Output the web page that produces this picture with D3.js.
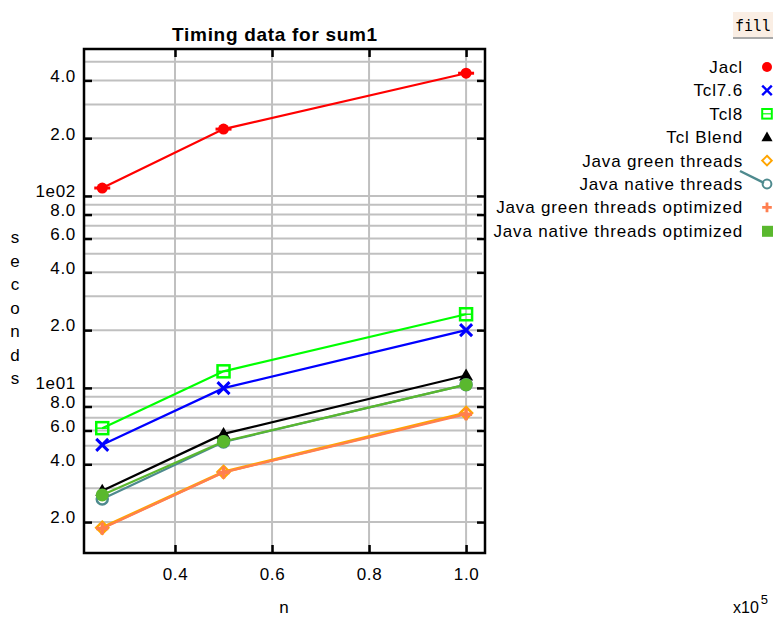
<!DOCTYPE html>
<html>
<head>
<meta charset="utf-8">
<script src="https://cdn.jsdelivr.net/npm/d3@7"></script>
<style>
  body { margin: 0; background: #fff; }
  text { font-family: "Liberation Sans", Arial, sans-serif; fill: #000; }
</style>
</head>
<body>
<svg id="chart" width="773" height="619"></svg>
<script>
// n values, in units of 1e5
const nValues = [0.25, 0.5, 1.0];

const seriesNames = [
  "Jacl", "Tcl7.6", "Tcl8", "Tcl Blend",
  "Java green threads", "Java native threads",
  "Java green threads optimized", "Java native threads optimized"
];

// seconds
const jacl = [110, 223, 436];
const tcl76 = [5.05, 9.97, 20.0];
const tcl8 = [6.17, 12.2, 24.2];
const tclBlend = [2.91, 5.76, 11.6];
const javaGreen = [1.87, 3.65, 7.4];
const javaNative = [2.64, 5.23, 10.4];
const javaGreenOpt = [1.85, 3.63, 7.3];
const javaNativeOpt = [2.77, 5.26, 10.4];

const xTicks = [0.4, 0.6, 0.8, 1.0];
const yTicks = [2, 4, 6, 8, 10, 20, 40, 60, 80, 100, 200, 400];
const yTickLabels = ["2.0", "4.0", "6.0", "8.0", "1e01", "2.0", "4.0", "6.0", "8.0", "1e02", "2.0", "4.0"];

const seriesValues = [jacl, tcl76, tcl8, tclBlend, javaGreen, javaNative, javaGreenOpt, javaNativeOpt];
const seriesColors = ["#ff0000", "#0000ff", "#00ff00", "#000000", "#ffa500", "#4e8a8e", "#ff7f50", "#5ab82e"];
const seriesSymbols = ["circle", "cross", "square", "triangle", "diamond", "ring", "plus", "blob"];

const svg = d3.select("#chart");
const plot = { left: 84, right: 485, top: 49, bottom: 553 };

const x = d3.scaleLinear().domain([0.2124, 1.039]).range([plot.left, plot.right]);
const y = d3.scaleLog().domain([1.38, 583]).range([plot.bottom, plot.top]);

// grid
let gridY = [];
[1, 10, 100].forEach(dec => {
  for (let m = 1; m <= 9; m++) {
    let v = m * dec;
    if (v >= y.domain()[0] && v <= y.domain()[1]) gridY.push(v);
  }
});

let grid = svg.append("g").attr("class", "grid");
grid.selectAll("line.gy")
  .data(gridY)
  .enter().append("line")
    .attr("x1", plot.left).attr("x2", plot.right - 3)
    .attr("y1", d => y(d)).attr("y2", d => y(d))
    .attr("stroke", "#c0c0c0").attr("stroke-width", 2);
grid.selectAll("line.gx")
  .data(xTicks)
  .enter().append("line")
    .attr("x1", d => x(d)).attr("x2", d => x(d))
    .attr("y1", plot.top).attr("y2", plot.bottom)
    .attr("stroke", "#c0c0c0").attr("stroke-width", 2);

// axes
let yFormat = d => yTickLabels[yTicks.indexOf(d)];

svg.append("g")
  .attr("transform", `translate(${plot.left},0)`)
  .call(d3.axisLeft(y).tickValues(yTicks).tickFormat(yFormat).tickSizeInner(-8).tickSizeOuter(0).tickPadding(8))
  .call(g => g.select(".domain").remove())
  .call(g => g.selectAll("line").attr("stroke-width", 2.5))
  .call(g => g.selectAll("text").attr("font-size", 17).attr("dy", "0.05em")
      .attr("font-family", "Liberation Sans, Arial, sans-serif").attr("letter-spacing", 0.7));

svg.append("g")
  .attr("transform", `translate(${plot.right},0)`)
  .call(d3.axisRight(y).tickValues(yTicks).tickFormat("").tickSizeInner(-8).tickSizeOuter(0))
  .call(g => g.select(".domain").remove())
  .call(g => g.selectAll("line").attr("stroke-width", 2.5));

svg.append("g")
  .attr("transform", `translate(0,${plot.bottom})`)
  .call(d3.axisBottom(x).tickValues(xTicks).tickFormat(d3.format(".1f")).tickSizeInner(-8).tickSizeOuter(0).tickPadding(15))
  .call(g => g.select(".domain").remove())
  .call(g => g.selectAll("line").attr("stroke-width", 2.5))
  .call(g => g.selectAll("text").attr("font-size", 17)
      .attr("font-family", "Liberation Sans, Arial, sans-serif").attr("letter-spacing", 0.7));

svg.append("g")
  .attr("transform", `translate(0,${plot.top})`)
  .call(d3.axisTop(x).tickValues(xTicks).tickFormat("").tickSizeInner(-8).tickSizeOuter(0))
  .call(g => g.select(".domain").remove())
  .call(g => g.selectAll("line").attr("stroke-width", 2.5));

svg.append("rect")
  .attr("x", plot.left).attr("y", plot.top)
  .attr("width", plot.right - plot.left).attr("height", plot.bottom - plot.top)
  .attr("fill", "none").attr("stroke", "#000").attr("stroke-width", 2.5);

// markers
function drawSymbol(g, type, color, cx, cy) {
  switch (type) {
    case "circle":
      g.append("circle").attr("cx", cx).attr("cy", cy).attr("r", 5.5).attr("fill", color);
      g.append("line").attr("x1", cx - 8).attr("x2", cx + 8).attr("y1", cy).attr("y2", cy)
        .attr("stroke", color).attr("stroke-width", 3);
      break;
    case "cross":
      g.append("path").attr("d", `M${cx-6},${cy-6}L${cx+6},${cy+6}M${cx-6},${cy+6}L${cx+6},${cy-6}`)
        .attr("stroke", color).attr("stroke-width", 3);
      break;
    case "square":
      g.append("rect").attr("x", cx - 6).attr("y", cy - 6).attr("width", 12).attr("height", 12)
        .attr("fill", "none").attr("stroke", color).attr("stroke-width", 2.5);
      g.append("line").attr("x1", cx - 6).attr("x2", cx + 6).attr("y1", cy).attr("y2", cy)
        .attr("stroke", color).attr("stroke-width", 1.5);
      break;
    case "triangle":
      g.append("path").attr("d", `M${cx},${cy-7}L${cx+7},${cy+5}L${cx-7},${cy+5}Z`).attr("fill", color);
      break;
    case "diamond":
      g.append("path").attr("d", `M${cx},${cy-6}L${cx+6},${cy}L${cx},${cy+6}L${cx-6},${cy}Z`)
        .attr("fill", "none").attr("stroke", color).attr("stroke-width", 2.5);
      break;
    case "ring":
      g.append("circle").attr("cx", cx).attr("cy", cy).attr("r", 5.5)
        .attr("fill", "none").attr("stroke", color).attr("stroke-width", 2.5);
      break;
    case "plus":
      g.append("path").attr("d", `M${cx-6},${cy}L${cx+6},${cy}M${cx},${cy-6}L${cx},${cy+6}`)
        .attr("stroke", color).attr("stroke-width", 3.5);
      break;
    case "blob":
      g.append("circle").attr("cx", cx).attr("cy", cy).attr("r", 6.5).attr("fill", color);
      break;
  }
}

let line = d3.line().x((d, i) => x(nValues[i])).y(d => y(d));

seriesValues.forEach((vals, si) => {
  let g = svg.append("g").attr("class", "series");
  g.append("path")
    .datum(vals)
    .attr("d", line)
    .attr("fill", "none")
    .attr("stroke", seriesColors[si])
    .attr("stroke-width", si === 4 ? 3 : 2.2);
  vals.forEach((v, i) => drawSymbol(g, seriesSymbols[si], seriesColors[si], x(nValues[i]), y(v)));
});

// title and labels
svg.append("text")
  .attr("x", 275).attr("y", 41)
  .attr("text-anchor", "middle")
  .attr("font-size", 19).attr("font-weight", "bold").attr("letter-spacing", 0.7)
  .text("Timing data for sum1");

svg.append("text")
  .attr("x", 284).attr("y", 613)
  .attr("text-anchor", "middle").attr("font-size", 17)
  .text("n");

let xl = svg.append("text").attr("x", 733).attr("y", 613).attr("font-size", 16);
xl.append("tspan").text("x10");
xl.append("tspan").attr("dy", -9).attr("dx", 2).attr("font-size", 13).text("5");

let ylabel = "seconds".split("");
svg.append("g").selectAll("text")
  .data(ylabel)
  .enter().append("text")
    .attr("x", 15).attr("y", (d, i) => 243 + i * 23.5)
    .attr("text-anchor", "middle").attr("font-size", 17)
    .text(d => d);

// legend
let legend = svg.append("g").attr("class", "legend");
seriesNames.forEach((name, i) => {
  let ry = 67 + i * 23.4;
  legend.append("text")
    .attr("x", 743).attr("y", ry + 6)
    .attr("text-anchor", "end").attr("font-size", 17).attr("letter-spacing", 0.85)
    .text(name);
  if (seriesSymbols[i] === "ring") {
    legend.append("line").attr("x1", 740).attr("y1", ry - 13).attr("x2", 764).attr("y2", ry - 1)
      .attr("stroke", seriesColors[i]).attr("stroke-width", 2.5);
  }
  let sym = seriesSymbols[i] === "blob" ? "square" : seriesSymbols[i];
  if (seriesSymbols[i] === "blob") {
    legend.append("rect").attr("x", 762).attr("y", ry - 5).attr("width", 11).attr("height", 11)
      .attr("fill", seriesColors[i]);
  } else if (sym === "circle") {
    legend.append("circle").attr("cx", 767).attr("cy", ry).attr("r", 5).attr("fill", seriesColors[i]);
  } else {
    let lg = legend.append("g").attr("transform", `translate(767,${ry}) scale(0.8) translate(-767,${-ry})`);
    drawSymbol(lg, sym, seriesColors[i], 767, ry);
  }
});

// fill button
let btn = svg.append("g");
btn.append("rect").attr("x", 733).attr("y", 12).attr("width", 42).attr("height", 26).attr("fill", "#faeee4");
btn.append("rect").attr("x", 733).attr("y", 37).attr("width", 42).attr("height", 2).attr("fill", "#a8a8a8");
btn.append("text")
  .attr("x", 753).attr("y", 31)
  .attr("text-anchor", "middle").attr("font-size", 15)
  .style("font-family", "DejaVu Sans Mono, monospace")
  .text("fill");
</script>
</body>
</html>
